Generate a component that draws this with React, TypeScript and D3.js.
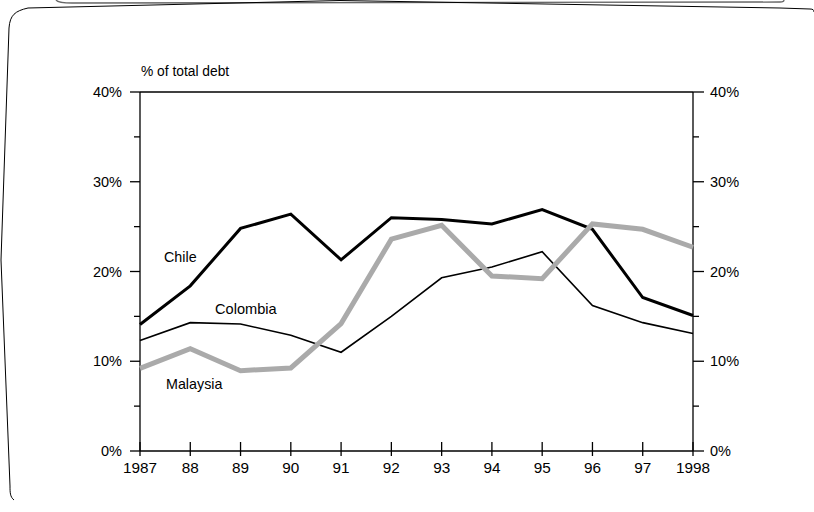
import React from "react";
import * as d3 from "d3";

const years = [1987, 1988, 1989, 1990, 1991, 1992, 1993, 1994, 1995, 1996, 1997, 1998];
const yearLabels = ["1987", "88", "89", "90", "91", "92", "93", "94", "95", "96", "97", "1998"];
const chile = [14.1, 18.4, 24.8, 26.4, 21.3, 26.0, 25.8, 25.3, 26.9, 24.7, 17.1, 15.1];
const colombia = [12.3, 14.3, 14.15, 12.9, 11.0, 15.0, 19.3, 20.5, 22.2, 16.2, 14.3, 13.1];
const malaysia = [9.2, 11.4, 8.95, 9.25, 14.2, 23.6, 25.15, 19.5, 19.2, 25.3, 24.7, 22.7];
const majorTicks = [0, 10, 20, 30, 40];
const minorTicks = [5, 15, 25, 35];
const seriesLabels = ["Chile", "Colombia", "Malaysia"];

export default function App() {
  const x = d3.scaleLinear().domain([1987, 1998]).range([140, 693]);
  const y = d3.scaleLinear().domain([0, 40]).range([451, 92]);
  const line = (vals: number[]) =>
    d3.line<number>().x((_, i) => x(years[i])).y((d) => y(d))(vals) || "";
  const font = "Liberation Sans, Arial, sans-serif";
  const x0 = x(1987), x1 = x(1998), yTop = y(40), yBot = y(0);

  return (
    <svg width={814} height={512} style={{ position: "absolute", left: 0, top: 0 }} fontFamily={font}>
      {/* frame */}
      <path d="M 56 0 C 58 2.5 62 3 72 3 L 780 2 C 783 2 784 1 784 0" fill="none" stroke="#666" strokeWidth={1.3} />
      <path
        d="M 14 500 C 10 497 10 492 10 486 L 1 260 L 9 28 C 10 15 15 11 28 8 L 340 0.5 L 780 8 L 810 9 C 813 9 814 10 814 12"
        fill="none" stroke="#000" strokeWidth={1} />

      {/* axes */}
      <line x1={x0} x2={x1} y1={yTop} y2={yTop} stroke="#000" strokeWidth={1.3} />
      <line x1={x0} x2={x1} y1={yBot} y2={yBot} stroke="#000" strokeWidth={1.3} />
      <line x1={x0} x2={x0} y1={yTop} y2={yBot} stroke="#000" strokeWidth={1.3} />
      <line x1={x1} x2={x1} y1={yTop} y2={yBot} stroke="#000" strokeWidth={1.3} />

      {majorTicks.map((t) => (
        <g key={"mj" + t}>
          <line x1={x0 - 10} x2={x0} y1={y(t)} y2={y(t)} stroke="#000" strokeWidth={1.3} />
          <line x1={x1} x2={x1 + 11} y1={y(t)} y2={y(t)} stroke="#000" strokeWidth={1.3} />
          <text x={x0 - 18} y={y(t)} dy="0.35em" textAnchor="end" fontSize={14.5}>{t}%</text>
          <text x={x1 + 17} y={y(t)} dy="0.35em" textAnchor="start" fontSize={14.5}>{t}%</text>
        </g>
      ))}
      {minorTicks.map((t) => (
        <g key={"mn" + t}>
          <line x1={x0 - 6} x2={x0} y1={y(t)} y2={y(t)} stroke="#000" strokeWidth={1.3} />
          <line x1={x1} x2={x1 + 6} y1={y(t)} y2={y(t)} stroke="#000" strokeWidth={1.3} />
        </g>
      ))}
      {years.map((yr, i) => (
        <g key={"x" + yr}>
          <line x1={x(yr)} x2={x(yr)} y1={yBot - 9} y2={yBot + 5} stroke="#000" strokeWidth={1.3} />
          <text x={x(yr)} y={473} textAnchor="middle" fontSize={15.3}>{yearLabels[i]}</text>
        </g>
      ))}

      <text x={141} y={76} fontSize={13.8}>% of total debt</text>

      {/* series */}
      <path d={line(colombia)} fill="none" stroke="#000" strokeWidth={1.6} strokeLinejoin="miter" />
      <path d={line(chile)} fill="none" stroke="#000" strokeWidth={3} strokeLinejoin="miter" />
      <path d={line(malaysia)} fill="none" stroke="#aaaaaa" strokeWidth={5} strokeLinejoin="miter" />

      <text x={164} y={262} fontSize={14.3}>{seriesLabels[0]}</text>
      <text x={215} y={314} fontSize={14.6}>{seriesLabels[1]}</text>
      <text x={166} y={389} fontSize={14.3}>{seriesLabels[2]}</text>
    </svg>
  );
}
